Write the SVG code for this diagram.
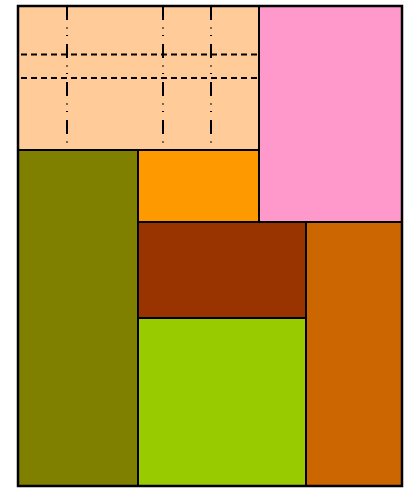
<svg xmlns="http://www.w3.org/2000/svg" width="404" height="488" viewBox="0 0 404 488">
<style>
.r{stroke:#000;stroke-width:2}
.h{stroke:#000;stroke-width:2;stroke-dasharray:6 4;fill:none}
.v{stroke:#000;stroke-width:2;stroke-dasharray:14 7.5 1 6.5 1 8;fill:none}
</style>
<rect width="404" height="488" fill="#fff"/>
<g id="peach"><rect class="r" x="18" y="6" width="241" height="144" fill="#ffcc99"/></g>
<g id="pink"><rect class="r" x="259" y="6" width="143" height="216" fill="#ff99cc"/></g>
<g id="olive"><rect class="r" x="18" y="150" width="120" height="336" fill="#808000"/></g>
<g id="orange"><rect class="r" x="138" y="150" width="121" height="72" fill="#ff9900"/></g>
<g id="brown"><rect class="r" x="138" y="222" width="168" height="96" fill="#993300"/></g>
<g id="lime"><rect class="r" x="138" y="318" width="168" height="168" fill="#99cc00"/></g>
<g id="burnt"><rect class="r" x="306" y="222" width="96" height="264" fill="#cc6600"/></g>
<g id="grid">
<line class="h" x1="21" y1="54.5" x2="258" y2="54.5"/>
<line class="h" x1="21" y1="78" x2="258" y2="78"/>
<line class="v" x1="67" y1="6" x2="67" y2="149"/>
<line class="v" x1="163" y1="6" x2="163" y2="149"/>
<line class="v" x1="211" y1="6" x2="211" y2="149"/>
</g>
<rect x="18" y="6" width="384" height="480" fill="none" stroke="#000" stroke-width="2.5"/>
</svg>
